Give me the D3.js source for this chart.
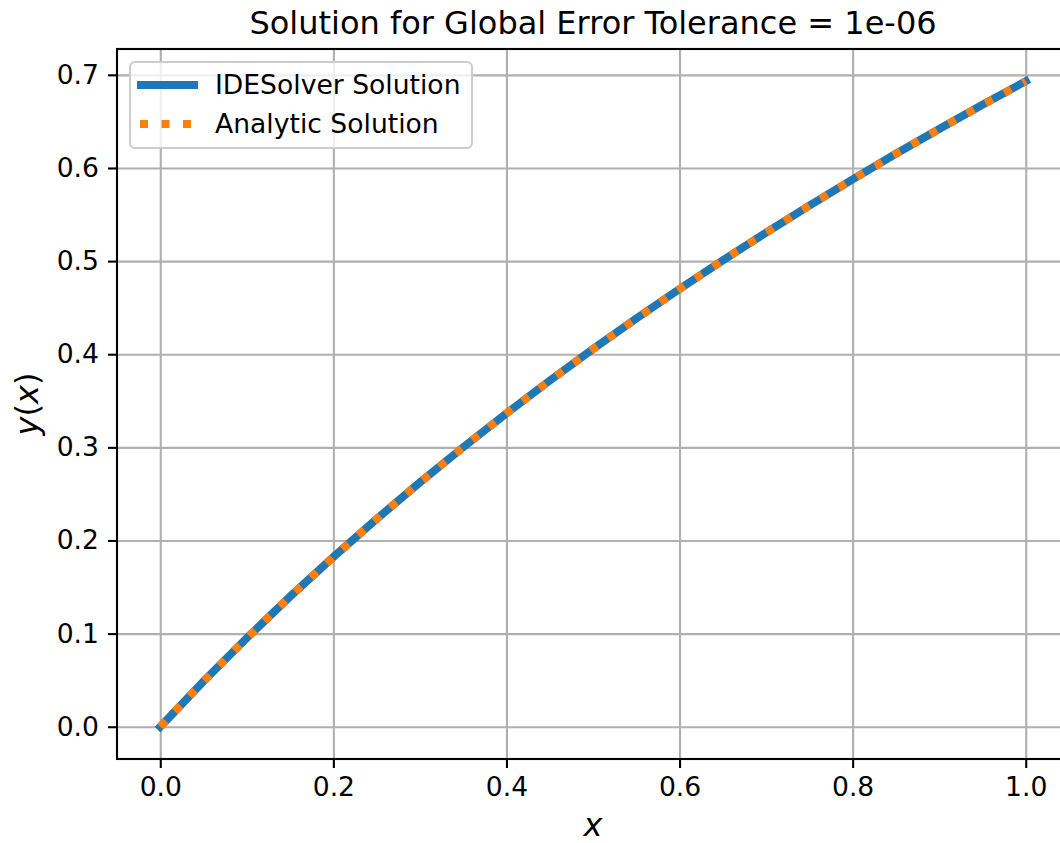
<!DOCTYPE html>
<html>
<head>
<meta charset="utf-8">
<script src="https://cdn.jsdelivr.net/npm/d3@7"></script>
<style>
  body { margin: 0; background: #fff; overflow: hidden; }
  text { font-family: "DejaVu Sans", sans-serif; }
</style>
</head>
<body>
<div id="chart"></div>
<script>
// x grid of the solution
const xs = [0, 0.05, 0.1, 0.15, 0.2, 0.25, 0.3, 0.35, 0.4, 0.45, 0.5,
            0.55, 0.6, 0.65, 0.7, 0.75, 0.8, 0.85, 0.9, 0.95, 1.0];
// IDESolver output
const ideSolver = [0, 0.0488, 0.0953, 0.1398, 0.1823, 0.2231, 0.2624, 0.3001, 0.3365, 0.3716, 0.4055,
                   0.4383, 0.4700, 0.5008, 0.5306, 0.5596, 0.5878, 0.6152, 0.6419, 0.6678, 0.6931];
// analytic solution, same curve
const analytic = [0, 0.0488, 0.0953, 0.1398, 0.1823, 0.2231, 0.2624, 0.3001, 0.3365, 0.3716, 0.4055,
                  0.4383, 0.4700, 0.5008, 0.5306, 0.5596, 0.5878, 0.6152, 0.6419, 0.6678, 0.6931];
const xTicks = [0.0, 0.2, 0.4, 0.6, 0.8, 1.0];
const yTicks = [0.0, 0.1, 0.2, 0.3, 0.4, 0.5, 0.6, 0.7];

const W = 1060, H = 843;
const margin = { top: 49, left: 117, right: -9, bottom: 84 };
const width = W - margin.left - margin.right;
const height = H - margin.top - margin.bottom;
const fs = 26.6; // tick / legend font size

const svg = d3.select("#chart").append("svg")
  .attr("width", W).attr("height", H);
const g = svg.append("g").attr("transform", `translate(${margin.left},${margin.top})`);

// matplotlib style 5% padding
const pad = (lo, hi) => [lo - 0.05 * (hi - lo), hi + 0.05 * (hi - lo)];
const x = d3.scaleLinear().domain(pad(d3.min(xs), d3.max(xs))).range([0, width]);
const yAll = ideSolver.concat(analytic);
const y = d3.scaleLinear().domain(pad(d3.min(yAll), d3.max(yAll))).range([height, 0]);

// grid
g.append("g")
  .call(d3.axisBottom(x).tickValues(xTicks).tickSize(height).tickFormat(""))
  .call(s => s.select(".domain").remove())
  .selectAll("line").attr("stroke", "#b0b0b0").attr("stroke-width", 2.1);
g.append("g")
  .call(d3.axisLeft(y).tickValues(yTicks).tickSize(-width).tickFormat(""))
  .call(s => s.select(".domain").remove())
  .selectAll("line").attr("stroke", "#b0b0b0").attr("stroke-width", 2.1);

// lines
const pts = (ys) => xs.map((v, i) => [v, ys[i]]);
const line = d3.line().x(d => x(d[0])).y(d => y(d[1]));

g.append("path")
  .attr("d", line(pts(ideSolver)))
  .attr("fill", "none")
  .attr("stroke", "#1f77b4")
  .attr("stroke-width", 8)
  .attr("stroke-linecap", "square");

g.append("path")
  .attr("d", line(pts(analytic)))
  .attr("fill", "none")
  .attr("stroke", "#ff7f0e")
  .attr("stroke-width", 8)
  .attr("stroke-dasharray", "8,13.2");

// axes
const xAxis = g.append("g")
  .attr("transform", `translate(0,${height})`)
  .call(d3.axisBottom(x).tickValues(xTicks).tickSize(9).tickPadding(9).tickFormat(d3.format(".1f")));
const yAxis = g.append("g")
  .call(d3.axisLeft(y).tickValues(yTicks).tickSize(9).tickPadding(9).tickFormat(d3.format(".1f")));
[xAxis, yAxis].forEach(a => {
  a.selectAll("line").attr("stroke", "#000").attr("stroke-width", 2.1);
  a.select(".domain").remove();
  a.selectAll("text").attr("font-size", fs).attr("fill", "#000")
    .style("font-family", "DejaVu Sans");
});

// spines
g.append("rect")
  .attr("width", width).attr("height", height)
  .attr("fill", "none").attr("stroke", "#000").attr("stroke-width", 2.1);

// title and labels
svg.append("text")
  .attr("x", margin.left + width / 2).attr("y", 34)
  .attr("text-anchor", "middle").attr("font-size", 32)
  .text("Solution for Global Error Tolerance = 1e-06");

svg.append("text")
  .attr("x", margin.left + width / 2).attr("y", 836)
  .attr("text-anchor", "middle").attr("font-size", 32)
  .attr("font-style", "italic")
  .text("x");

svg.append("text")
  .attr("transform", `translate(38,${margin.top + height / 2}) rotate(-90)`)
  .attr("text-anchor", "middle").attr("font-size", 32)
  .html('<tspan font-style="italic">y</tspan>(<tspan font-style="italic">x</tspan>)');

// legend
const legend = svg.append("g").attr("transform", "translate(130,62)");
legend.append("rect")
  .attr("width", 342).attr("height", 86).attr("rx", 5)
  .attr("fill", "#fff").attr("fill-opacity", 0.8)
  .attr("stroke", "#cccccc").attr("stroke-width", 2);

const items = [
  { label: "IDESolver Solution", color: "#1f77b4", dash: null, x1: 7, x2: 68, yy: 23 },
  { label: "Analytic Solution", color: "#ff7f0e", dash: "8,13.5", x1: 10, x2: 62, yy: 62 }
];
items.forEach(it => {
  legend.append("line")
    .attr("x1", it.x1).attr("x2", it.x2).attr("y1", it.yy).attr("y2", it.yy)
    .attr("stroke", it.color).attr("stroke-width", 8)
    .attr("stroke-dasharray", it.dash);
  legend.append("text")
    .attr("x", 85).attr("y", it.yy + 9)
    .attr("font-size", fs)
    .text(it.label);
});
</script>
</body>
</html>
